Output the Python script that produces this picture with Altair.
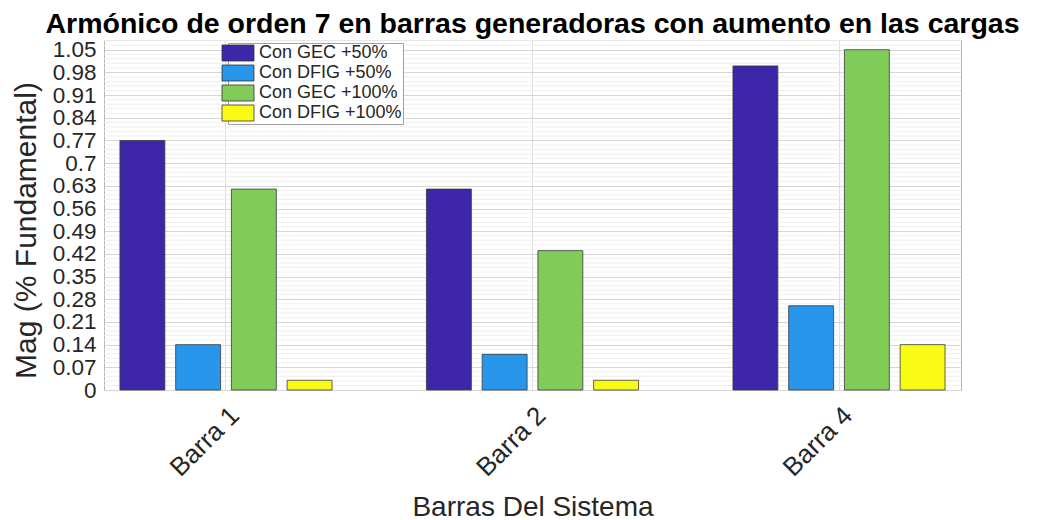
import altair as alt
import pandas as pd

categories = ["Barra 1", "Barra 2", "Barra 4"]
series = ["Con GEC +50%", "Con DFIG +50%", "Con GEC +100%", "Con DFIG +100%"]
gec_50 = [0.77, 0.62, 1.00]
dfig_50 = [0.14, 0.11, 0.26]
gec_100 = [0.62, 0.43, 1.05]
dfig_100 = [0.03, 0.03, 0.14]
colors = ["#3E26A8", "#2796EB", "#81CC59", "#F9FB15"]
y_ticks = [0, 0.07, 0.14, 0.21, 0.28, 0.35, 0.42, 0.49, 0.56, 0.63, 0.7,
           0.77, 0.84, 0.91, 0.98, 1.05]

# minor grid between major ticks (decorative)
minor = []
for a, b in zip(y_ticks[:-1], y_ticks[1:]):
    for k in range(1, 5):
        minor.append(round(a + (b - a) * k / 5, 4))
minor += [1.064, 1.078]

rows = []
for s, vals in zip(series, [gec_50, dfig_50, gec_100, dfig_100]):
    for c, v in zip(categories, vals):
        rows.append({"barra": c, "serie": s, "valor": v})
df = pd.DataFrame(rows)
minor_df = pd.DataFrame({"valor": minor})

FONT = "Liberation Sans"
yscale = alt.Scale(domain=[0, 1.08], nice=False, zero=True)
yaxis = alt.Axis(
    values=y_ticks,
    format=".2~f",
    title="Mag (% Fundamental)",
    domain=False,
    ticks=False,
    labelOverlap=False,
    labelPadding=8,
    labelFontSize=22.5,
    labelColor="#262626",
    gridColor="#d6d6d6",
    titleFontSize=30,
    titleFontWeight="normal",
    titleColor="#262626",
    titleX=-78,
    titleY=190,
    titleAngle=-90,
    titleAlign="center",
    titleBaseline="middle",
)

minor_rules = alt.Chart(minor_df).mark_rule(color="#efefef", strokeWidth=1).encode(
    y=alt.Y("valor:Q", scale=yscale, axis=yaxis)
)

bars = alt.Chart(df).mark_bar(stroke="#3a3a3a", strokeWidth=0.8).encode(
    x=alt.X(
        "barra:N",
        sort=categories,
        scale=alt.Scale(paddingInner=0.308, paddingOuter=0.052),
        axis=alt.Axis(
            title="Barras Del Sistema",
            labelAngle=-45,
            labelAlign="right",
            labelBaseline="top",
            labelPadding=12,
            ticks=False,
            domain=False,
            grid=True,
            gridColor="#dddddd",
            labelFontSize=26,
            labelColor="#262626",
            titleFontSize=28,
            titleFontWeight="normal",
            titleColor="#262626",
            titleY=125,
            titleBaseline="alphabetic",
        ),
    ),
    xOffset=alt.XOffset(
        "serie:N", sort=series, scale=alt.Scale(paddingInner=0.194, paddingOuter=0)
    ),
    y=alt.Y("valor:Q", scale=yscale, axis=yaxis),
    color=alt.Color(
        "serie:N",
        sort=series,
        scale=alt.Scale(domain=series, range=colors),
        legend=alt.Legend(
            title=None,
            orient="none",
            legendX=124,
            legendY=3,
            symbolType="M-2,-1H2V1H-2Z",
            symbolSize=256,
            symbolStrokeColor="#333333",
            symbolStrokeWidth=0.8,
            symbolOpacity=1,
            labelFontSize=18,
            labelFont=FONT,
            labelColor="#262626",
            labelOffset=12,
            fillColor="white",
            strokeColor="#a0a0a0",
            padding=1,
            rowPadding=0,
        ),
    ),
)

chart = alt.layer(minor_rules, bars).properties(
    width=857,
    height=350,
    autosize=alt.AutoSizeParams(type="none"),
    padding={"left": 96, "top": 32, "right": 78, "bottom": 130},
    title=alt.Title(
        "Armónico de orden 7 en barras generadoras con aumento en las cargas",
        fontSize=28.5,
        fontWeight="bold",
        font=FONT,
        anchor="middle",
        offset=0,
        color="black",
    ),
).configure_view(stroke="#b4b4b4", strokeWidth=1).configure_axis(
    labelFont=FONT, titleFont=FONT
)

chart.save("out.html", embed_options={"renderer": "svg", "actions": False})
